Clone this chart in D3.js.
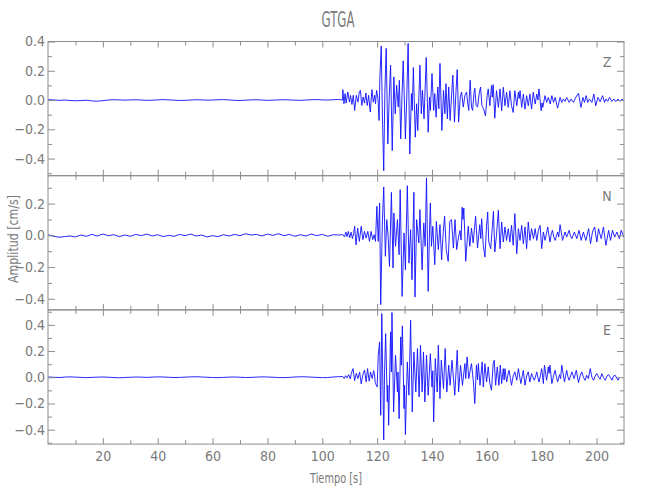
<!DOCTYPE html>
<html>
<head>
<meta charset="utf-8">
<script src="https://cdn.jsdelivr.net/npm/d3@7"></script>
<style>
  html, body { margin: 0; padding: 0; background: #fff; }
  svg { display: block; }
  text { font-family: "Liberation Sans Narrow", "DejaVu Sans Condensed", sans-serif; fill: #7a7a7a; }
</style>
</head>
<body>
<svg id="chart" width="650" height="500"></svg>
<script>
// ---------------- DATA ----------------
const chartTitle = "GTGA";
const xAxisTitle = "Tiempo [s]";
const yAxisTitle = "Amplitud [cm/s]";
const componentNames = ["Z", "N", "E"];
const xMajorTicks = [20, 40, 60, 80, 100, 120, 140, 160, 180, 200];
const xMinorTicks = [10, 30, 50, 70, 90, 110, 130, 150, 170, 190];
const yMajorTicks = [-0.4, -0.2, 0.0, 0.2, 0.4];
const yMinorTicks = [-0.5, -0.3, -0.1, 0.1, 0.3, 0.5];
const timeRange = [0, 210];
const zRange = [-0.517, 0.400];
const nRange = [-0.470, 0.376];
const eRange = [-0.510, 0.514];

// [time (s), amplitude (cm/s)]
const zTrace = [
[0,0.002],[2,0.001],[4,-0.002],[6,0.000],[8,-0.003],[10,-0.005],[12,-0.004],[14,-0.001],[16,-0.006],[18,-0.008],
[20,-0.004],[22,0.000],[24,0.002],[26,0.001],[28,-0.001],[30,0.001],[32,0.002],[34,0.000],[36,-0.002],[38,-0.001],
[40,0.001],[42,0.003],[44,0.001],[46,-0.001],[48,-0.003],[50,-0.002],[52,0.000],[54,0.002],[56,0.001],[58,-0.001],
[60,0.000],[62,0.002],[64,0.003],[66,0.001],[68,-0.002],[70,-0.003],[72,-0.001],[74,0.001],[76,0.002],[78,0.000],
[80,-0.002],[82,-0.001],[84,0.001],[86,0.002],[88,0.001],[90,-0.001],[92,-0.002],[94,0.000],[96,0.002],[98,0.003],
[100,0.001],[102,0.000],[104,0.002],[106,0.004],[107.4,0.000],
[107.5,0.071],[107.9,-0.025],[108.3,0.044],[108.7,-0.021],[109.3,0.055],[109.9,-0.014],[110.3,0.032],[110.8,-0.030],
[111.3,0.032],[111.8,-0.071],[112.4,0.032],[113.0,-0.014],[113.5,0.055],[113.9,0.066],[114.4,-0.037],[114.9,0.021],
[115.4,-0.021],[115.9,0.048],[116.4,-0.037],[116.9,0.032],[117.5,-0.082],[118.1,0.071],[118.6,-0.014],[119.1,0.032],
[119.4,-0.025],[119.8,0.066],[120.3,0.010],[120.7,-0.140],[121.0,0.158],[121.5,0.369],[121.9,-0.094],[122.4,-0.483],
[122.8,0.044],[123.3,0.353],[123.9,-0.300],[124.4,0.021],[124.9,0.238],[125.5,-0.346],[126.1,0.158],[126.6,-0.094],
[127.1,0.101],[127.7,-0.048],[128.1,0.135],[128.6,-0.266],[129.1,0.050],[129.5,0.268],[130.0,-0.050],[130.3,-0.266],
[130.8,0.021],[131.3,0.387],[131.9,-0.369],[132.5,0.044],[132.8,-0.071],[133.2,0.222],[133.9,-0.254],[134.4,-0.025],
[134.8,-0.208],[135.6,0.238],[136.1,-0.094],[136.5,0.066],[137.1,-0.128],[137.9,0.291],[138.6,-0.220],[139.1,0.021],
[139.4,-0.071],[140.0,0.181],[140.6,-0.071],[141.0,0.044],[141.5,-0.117],[142.1,0.089],[142.5,-0.060],[142.9,0.250],
[143.6,-0.208],[144.2,0.066],[144.7,-0.094],[145.1,0.112],[145.6,-0.128],[146.1,0.089],[146.6,-0.140],[147.1,0.021],
[147.6,0.170],[148.2,-0.151],[148.7,0.044],[149.2,0.208],[149.7,-0.151],[150.3,0.021],[150.8,0.055],[151.4,-0.048],
[152.0,0.032],[152.6,0.055],[153.0,-0.020],[153.4,-0.071],[153.9,0.135],[154.4,-0.048],[154.8,-0.071],[155.3,0.044],
[155.6,0.080],[156.1,-0.037],[156.6,-0.048],[157.2,0.044],[157.7,0.089],[158.2,-0.037],[158.8,-0.060],[159.5,-0.108],
[160.1,0.030],[160.5,0.076],[161.1,-0.039],[161.7,0.099],[162.0,0.020],[162.3,0.105],[162.9,-0.124],[163.5,0.064],
[164.2,-0.050],[164.8,0.076],[165.4,-0.073],[166.0,0.087],[166.6,-0.039],[167.2,0.053],[167.8,-0.050],[168.4,0.064],
[169.0,-0.039],[169.6,-0.085],[170.2,0.064],[170.9,-0.039],[171.5,0.053],[171.8,0.010],[172.1,0.064],[172.7,-0.050],
[173.3,0.041],[173.9,-0.062],[174.5,0.030],[175.1,-0.039],[175.7,0.041],[176.3,-0.062],[176.9,0.053],[177.6,-0.027],
[178.2,0.041],[178.6,0.000],[179.0,0.076],[179.8,-0.073],[180.1,-0.020],[180.4,-0.050],[181.2,0.030],[181.8,-0.016],
[182.4,0.018],[183.1,-0.027],[183.7,0.030],[184.3,-0.016],[184.9,0.018],[185.8,-0.055],[186.7,0.018],[187.3,-0.016],
[187.9,0.007],[188.5,-0.009],[189.1,0.018],[190.0,-0.016],[190.7,0.007],[191.6,-0.016],[192.4,0.018],[193.4,0.046],
[194.3,-0.050],[195.0,0.018],[195.6,-0.016],[196.2,0.030],[196.8,-0.016],[197.4,0.007],[198.3,-0.016],[199.0,0.041],
[199.7,-0.039],[200.5,0.018],[201.3,-0.011],[202.2,0.030],[202.9,-0.016],[203.4,0.007],[204.1,-0.009],[204.7,0.018],
[205.6,-0.009],[206.3,0.007],[207.0,-0.011],[207.8,0.007],[208.6,-0.009],[209.3,0.007],[210.2,-0.009]
];

const nTrace = [
[0,0.004],[2,-0.006],[4,-0.012],[6,-0.008],[8,-0.004],[10,-0.010],[12,0.002],[14,-0.006],[16,0.006],[18,-0.004],
[20,0.008],[22,-0.002],[24,0.004],[26,-0.008],[28,0.002],[30,-0.006],[32,0.006],[34,-0.002],[36,0.008],[38,-0.004],
[40,0.004],[42,-0.008],[44,0.000],[46,-0.006],[48,0.006],[50,-0.002],[52,0.008],[54,-0.004],[56,0.002],[58,-0.010],
[60,-0.002],[62,-0.008],[64,0.004],[66,-0.004],[68,0.006],[70,-0.002],[72,0.010],[74,0.002],[76,0.006],[78,-0.004],
[80,0.008],[82,0.000],[84,0.010],[86,-0.002],[88,0.006],[90,-0.006],[92,0.004],[94,-0.004],[96,0.008],[98,-0.002],
[100,0.006],[102,-0.006],[104,0.004],[106,0.002],
[107.5,0.005],[108.1,-0.010],[108.6,0.020],[109.0,-0.008],[109.5,0.025],[110.0,-0.015],[110.5,0.020],[111.0,-0.020],
[111.4,0.010],[111.8,0.057],[112.3,-0.060],[112.9,0.046],[113.5,-0.038],[114.2,0.057],[114.8,-0.027],[115.4,0.025],
[116.0,-0.017],[116.6,0.025],[117.2,-0.038],[117.8,0.025],[118.4,-0.027],[118.9,0.004],[119.4,-0.038],[119.9,0.183],
[120.4,-0.038],[120.9,0.204],[121.3,-0.437],[121.9,0.078],[122.4,0.305],[123.0,-0.132],[123.5,0.099],[124.0,-0.006],
[124.5,-0.196],[125.2,0.271],[125.8,-0.206],[126.1,0.141],[126.7,-0.069],[127.4,0.099],[128.0,-0.122],[128.4,0.288],
[129.1,-0.385],[129.8,0.015],[130.3,-0.217],[131.0,0.313],[131.6,-0.175],[132.2,0.036],[132.7,-0.280],[133.4,0.271],
[133.8,-0.389],[134.4,0.099],[135.2,-0.048],[135.6,0.162],[136.4,-0.217],[137.0,0.078],[137.5,-0.069],[138.0,0.362],
[138.6,-0.353],[139.1,0.036],[139.4,0.204],[139.8,-0.069],[140.3,0.057],[141.0,-0.185],[141.6,0.088],[142.3,-0.090],
[142.9,0.067],[143.5,-0.154],[144.1,0.020],[144.6,0.120],[145.2,-0.090],[145.9,-0.164],[146.5,0.088],[147.1,0.099],
[147.5,0.000],[147.8,-0.080],[148.4,0.099],[149.0,-0.090],[149.6,-0.017],[150.2,0.030],[150.6,-0.030],[151.0,0.177],
[151.3,0.100],[151.6,0.172],[152.3,-0.164],[153.2,0.057],[153.8,-0.069],[154.4,0.046],[155.0,-0.048],[155.9,0.120],
[156.6,-0.080],[157.4,0.067],[157.8,-0.020],[158.1,0.105],[158.7,-0.063],[159.3,-0.137],[159.9,0.063],[160.3,0.147],
[160.7,-0.042],[161.4,-0.084],[162.0,0.053],[162.4,0.151],[162.9,-0.105],[163.5,0.000],[164.2,0.158],[164.8,-0.084],
[165.4,0.084],[166.0,-0.042],[166.6,0.053],[167.2,-0.032],[167.8,0.042],[168.4,-0.042],[169.0,0.063],[169.6,-0.063],
[170.2,0.137],[170.9,-0.116],[171.5,0.042],[172.1,-0.032],[172.7,0.063],[173.3,-0.053],[173.9,0.053],[174.5,-0.084],
[175.1,0.084],[175.7,-0.032],[176.3,0.042],[177.0,-0.021],[177.6,0.042],[178.2,-0.032],[178.8,0.032],[179.4,0.063],
[180.0,-0.084],[180.6,0.021],[181.2,-0.032],[181.7,0.010],[182.2,0.053],[183.0,-0.042],[183.5,0.010],[183.9,0.032],
[184.4,-0.010],[184.9,-0.032],[185.8,0.021],[186.2,-0.010],[186.7,0.067],[187.6,-0.032],[188.5,0.021],[189.1,-0.011],
[190.0,0.032],[190.5,-0.005],[191.0,-0.021],[191.9,0.021],[192.8,-0.021],[193.6,0.032],[194.4,-0.032],[195.2,0.021],
[196.1,-0.032],[197.1,0.042],[197.8,-0.053],[198.5,0.021],[199.3,0.053],[200.1,-0.042],[200.7,0.042],[201.7,-0.021],
[202.5,0.053],[203.4,-0.063],[204.4,0.032],[205.1,-0.032],[205.8,0.032],[206.6,-0.011],[207.4,0.021],[208.3,-0.021],
[209.0,0.032],[209.9,-0.011],[210.5,0.000]
];

const eTrace = [
[0,0.002],[2,0.000],[4,-0.002],[6,0.001],[8,0.003],[10,0.001],[12,-0.001],[14,-0.003],[16,-0.001],[18,0.001],
[20,0.002],[22,0.000],[24,-0.002],[26,-0.004],[28,-0.002],[30,0.000],[32,0.002],[34,0.001],[36,-0.001],[38,0.001],
[40,0.003],[42,0.002],[44,0.000],[46,-0.002],[48,-0.001],[50,0.001],[52,0.003],[54,0.004],[56,0.002],[58,0.000],
[60,-0.002],[62,-0.003],[64,-0.001],[66,0.001],[68,0.002],[70,0.000],[72,-0.002],[74,-0.001],[76,0.001],[78,0.003],
[80,0.002],[82,0.000],[84,-0.002],[86,-0.003],[88,-0.001],[90,0.002],[92,0.004],[94,0.003],[96,0.001],[98,-0.001],
[100,-0.003],[102,-0.002],[104,0.002],[106,0.005],
[107.5,0.005],[108.0,-0.010],[108.5,0.012],[109.0,-0.005],[109.6,0.020],[110.2,-0.012],[110.6,0.030],[111.2,0.066],
[111.8,-0.025],[112.4,0.030],[113.0,-0.010],[113.6,0.040],[114.2,-0.050],[114.8,0.020],[115.4,0.055],[116.0,-0.035],
[116.5,0.066],[117.1,-0.030],[117.6,0.040],[118.2,-0.010],[118.7,0.050],[119.0,0.030],[119.3,-0.040],[119.7,-0.061],
[120.0,-0.074],[120.4,0.168],[120.9,0.270],[121.3,-0.290],[121.7,0.486],[122.4,-0.478],[122.7,0.040],[123.1,0.333],
[123.7,-0.188],[123.9,-0.061],[124.2,-0.366],[124.9,0.346],[125.2,0.040],[125.4,0.494],[126.0,-0.265],[126.7,0.168],
[127.4,-0.112],[127.6,0.040],[128.0,-0.316],[128.6,0.308],[128.8,0.092],[129.2,0.392],[129.8,-0.239],[130.0,-0.061],
[130.3,-0.438],[131.0,0.117],[131.6,-0.137],[132.2,0.435],[132.8,-0.265],[133.4,0.193],[134.1,-0.112],[134.7,0.219],
[135.3,-0.150],[135.8,0.244],[136.4,-0.112],[136.9,0.193],[137.4,-0.188],[138.0,0.168],[138.6,-0.137],[139.4,0.180],
[140.0,-0.074],[140.3,0.050],[140.6,-0.341],[141.2,0.142],[141.9,-0.112],[142.3,0.244],[142.9,-0.163],[143.4,0.130],
[144.2,-0.087],[144.8,0.219],[145.4,-0.112],[146.1,0.092],[146.6,-0.061],[147.3,0.130],[147.8,0.000],[148.3,-0.137],
[149.2,0.206],[149.7,-0.112],[150.4,0.092],[151.1,-0.061],[152.0,0.104],[152.3,-0.010],[152.8,0.155],[153.4,-0.010],
[153.9,0.050],[154.4,0.104],[155.1,-0.036],[155.6,-0.201],[156.2,0.092],[156.6,-0.020],[156.9,0.104],[157.5,-0.061],
[158.3,0.117],[158.7,-0.074],[159.3,0.104],[159.9,-0.036],[160.5,0.079],[161.1,-0.048],[161.7,-0.099],[162.3,0.104],
[162.7,0.130],[163.2,-0.061],[163.8,0.079],[164.4,-0.061],[164.9,0.092],[165.4,-0.048],[166.0,0.066],[166.3,-0.020],
[166.6,0.066],[167.2,-0.036],[167.6,0.010],[168.1,0.053],[168.6,-0.010],[169.0,-0.061],[169.6,0.010],[170.2,0.041],
[170.9,-0.023],[171.5,0.066],[172.0,0.000],[172.4,-0.048],[172.9,0.010],[173.3,0.053],[173.9,-0.061],[174.5,0.010],
[175.1,0.041],[175.7,-0.036],[176.3,0.028],[176.8,0.000],[177.3,-0.023],[177.8,0.010],[178.2,0.041],[178.6,0.000],
[179.0,-0.036],[179.5,0.010],[180.0,0.066],[180.6,-0.048],[181.0,0.092],[181.8,-0.023],[182.4,0.079],[182.7,0.030],
[183.0,0.092],[183.7,-0.048],[184.3,0.010],[184.9,0.053],[185.4,0.000],[185.8,-0.036],[186.5,0.020],[186.9,-0.010],
[187.3,0.092],[188.3,-0.036],[188.7,0.010],[189.1,0.053],[189.6,0.000],[190.0,-0.023],[190.5,0.010],[191.0,0.041],
[191.8,-0.010],[192.6,0.053],[193.4,-0.041],[194.0,0.010],[194.6,0.041],[195.2,0.000],[195.8,-0.023],[196.4,0.015],
[197.0,-0.010],[197.7,0.066],[198.3,0.000],[198.9,-0.023],[199.5,0.010],[200.1,0.028],[200.7,0.000],[201.3,-0.015],
[201.9,0.028],[202.5,0.000],[203.2,-0.023],[203.8,0.010],[204.4,0.020],[205.0,0.000],[205.6,-0.023],[206.2,0.010],
[206.8,0.015],[207.3,-0.005],[207.8,-0.023],[208.3,0.000]
];

// ---------------- DRAWING ----------------
const traces = [zTrace, nTrace, eTrace];
const ranges = [zRange, nRange, eRange];

const svg = d3.select("#chart");
svg.append("rect").attr("width", 650).attr("height", 500).attr("fill", "#fff");

const left = 48, right = 624, top0 = 41.5, panelH = 134.2;
const axisColor = "#8c8c8c";
const textFont = '"Liberation Sans Narrow", "DejaVu Sans Condensed", sans-serif';
const x = d3.scaleLinear().domain(timeRange).range([left, right]);

svg.append("text")
  .attr("x", 338).attr("y", 27)
  .attr("text-anchor", "middle")
  .attr("font-size", 22)
  .attr("textLength", 33).attr("lengthAdjust", "spacingAndGlyphs")
  .text(chartTitle);

const fmt = d3.format(".1f");

componentNames.forEach((name, i) => {
  const top = top0 + i * panelH;
  const bottom = top + panelH;
  const y = d3.scaleLinear().domain(ranges[i]).range([bottom, top]);
  const g = svg.append("g");

  const clipId = "clip" + i;
  svg.append("clipPath").attr("id", clipId)
    .append("rect").attr("x", left).attr("y", top).attr("width", right - left).attr("height", panelH);

  const line = d3.line().x(d => x(d[0])).y(d => y(d[1]));
  g.append("path")
    .datum(traces[i])
    .attr("clip-path", `url(#${clipId})`)
    .attr("fill", "none")
    .attr("stroke", "#1010ff")
    .attr("stroke-width", 0.9)
    .attr("stroke-linejoin", "round")
    .attr("d", line);

  const inRange = v => v >= ranges[i][0] - 1e-9 && v <= ranges[i][1] + 1e-9;
  const major = yMajorTicks.filter(inRange);
  const minor = yMinorTicks.filter(inRange);

  const la = g.append("g").attr("transform", `translate(${left},0)`)
    .call(d3.axisLeft(y).tickValues(major).tickSize(-7).tickPadding(3).tickFormat(d => fmt(d)));
  la.append("g").call(d3.axisLeft(y).tickValues(minor).tickSize(-4).tickFormat(""));
  const ra = g.append("g").attr("transform", `translate(${right},0)`)
    .call(d3.axisRight(y).tickValues(major).tickSize(-7).tickFormat(""));
  ra.append("g").call(d3.axisRight(y).tickValues(minor).tickSize(-4).tickFormat(""));
  const ta = g.append("g").attr("transform", `translate(0,${top})`)
    .call(d3.axisTop(x).tickValues(xMajorTicks).tickSize(-6).tickFormat(""));
  ta.append("g").call(d3.axisTop(x).tickValues(xMinorTicks).tickSize(-4).tickFormat(""));
  const ba = g.append("g").attr("transform", `translate(0,${bottom})`)
    .call(d3.axisBottom(x).tickValues(xMajorTicks).tickSize(-6).tickPadding(7)
      .tickFormat(i === componentNames.length - 1 ? d3.format("d") : ""));
  ba.append("g").call(d3.axisBottom(x).tickValues(xMinorTicks).tickSize(-4).tickFormat(""));

  g.selectAll(".domain").remove();
  g.selectAll(".tick line").attr("stroke", axisColor);
  g.selectAll(".tick text")
    .attr("font-family", textFont)
    .attr("font-size", 14)
    .attr("fill", "#7a7a7a");

  g.append("rect")
    .attr("x", left).attr("y", top)
    .attr("width", right - left).attr("height", panelH)
    .attr("fill", "none").attr("stroke", axisColor).attr("stroke-width", 1);

  g.append("text")
    .attr("x", right - 17).attr("y", top + 25)
    .attr("text-anchor", "middle")
    .attr("font-size", 14)
    .text(name);
});

svg.append("text")
  .attr("x", 336).attr("y", 483)
  .attr("text-anchor", "middle")
  .attr("font-size", 14)
  .attr("textLength", 52).attr("lengthAdjust", "spacingAndGlyphs")
  .text(xAxisTitle);

svg.append("text")
  .attr("transform", "translate(18,239) rotate(-90)")
  .attr("text-anchor", "middle")
  .attr("font-size", 14)
  .attr("textLength", 88).attr("lengthAdjust", "spacingAndGlyphs")
  .text(yAxisTitle);
</script>
</body>
</html>
